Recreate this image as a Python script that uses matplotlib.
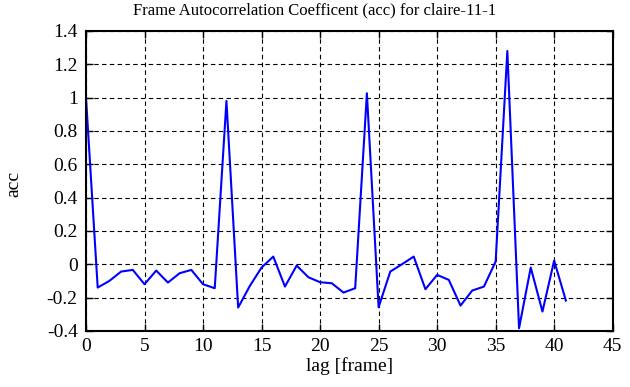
import numpy as np
import matplotlib
matplotlib.use("Agg")
import matplotlib.pyplot as plt
from matplotlib.ticker import FormatStrFormatter, MultipleLocator

# Data
lags = list(range(42))
acc = [1.0, -0.14, -0.10, -0.044, -0.034, -0.12, -0.038, -0.11, -0.054, -0.034,
       -0.12, -0.144, 0.98, -0.26, -0.13, -0.02, 0.046, -0.134, -0.008, -0.078,
       -0.108, -0.114, -0.17, -0.144, 1.026, -0.258, -0.044, 0.0, 0.046, -0.15,
       -0.064, -0.094, -0.248, -0.158, -0.134, 0.016, 1.28, -0.384, -0.02, -0.284,
       0.022, -0.218]

plt.rcParams["font.family"] = ["Liberation Serif", "DejaVu Serif"]
plt.rcParams["axes.unicode_minus"] = False

fig = plt.figure(figsize=(6.3, 3.87), dpi=100)
ax = fig.add_axes([0.1365, 0.145, 0.836, 0.775])

ax.plot(lags, acc, color="#0000ff", linewidth=1.5)

ax.set_xlim(0, 45)
ax.set_ylim(-0.4, 1.4)
ax.xaxis.set_major_locator(MultipleLocator(5))
ax.yaxis.set_major_locator(MultipleLocator(0.2))
ax.yaxis.set_major_formatter(FormatStrFormatter("%g"))

ax.grid(True, color="black", linestyle=(0, (4, 3)), linewidth=0.8)
ax.tick_params(direction="in", top=True, right=True, length=5, width=1,
               labelsize=14)
ax.tick_params(axis="x", pad=5)
ax.tick_params(axis="y", pad=6)
for s in ax.spines.values():
    s.set_linewidth(1.5)

# title and y label are placed on the figure, like gnuplot does
fig.text(0.5, 0.995, "Frame Autocorrelation Coefficent (acc) for claire-11-1",
         ha="center", va="top", fontsize=12)
ax.set_xlabel("lag [frame]", fontsize=14, labelpad=2)
fig.text(0.022, 0.525, "acc", rotation=90, ha="center", va="center", fontsize=14)

fig.savefig("out.png", dpi=100)
